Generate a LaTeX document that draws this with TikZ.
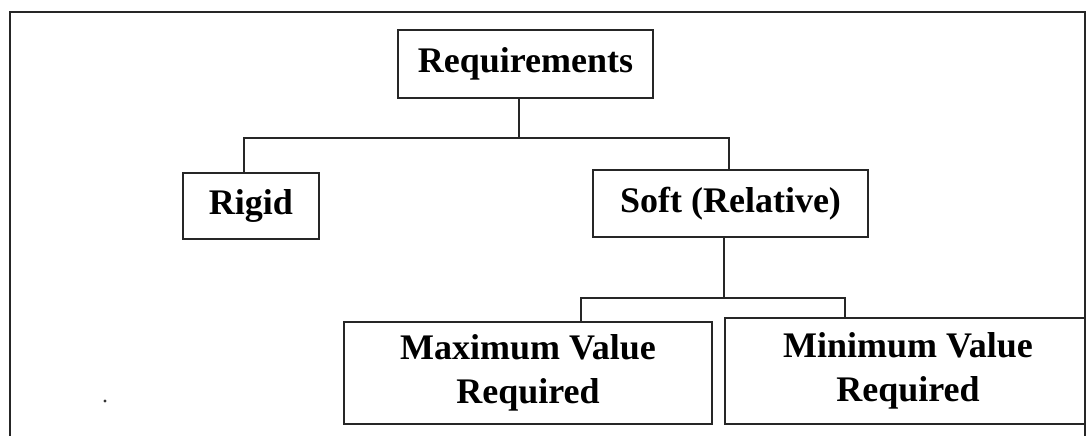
\documentclass[tikz,border=0pt]{standalone}
\usepackage{fontspec}
\setmainfont{Liberation Serif}
\begin{document}
\begin{tikzpicture}[x=1pt,y=-1pt,
  box/.style={draw=black!85, line width=1.8pt, rectangle, inner sep=0pt, align=center,
    font=\fontsize{36}{44}\selectfont\bfseries},
  link/.style={draw=black!85, line width=1.8pt},
  thinlink/.style={draw=black!85, line width=1.3pt}]
\useasboundingbox (0,0) rectangle (1086,436);
\clip (0,0) rectangle (1086,436);
\fill[white] (0,0) rectangle (1086,436);
% outer frame
\draw[black!85, line width=2.6pt] (10,12) rectangle (1085,460);
% boxes
\node[box, minimum width=255pt, minimum height=68pt] (req) at (525.5,64) {Requirements};
\node[box, minimum width=136pt, minimum height=66pt] (rigid) at (251,206) {Rigid};
\node[box, minimum width=275pt, minimum height=67pt] (soft) at (730.5,203.5) {Soft (Relative)};
\node[box, minimum width=368pt, minimum height=102pt] (maxv) at (528,373) {Maximum Value\\Required};
\node[box, minimum width=366pt, minimum height=106pt] (minv) at (908,371) {Minimum Value\\Required};
% connectors
\draw[link] ([xshift=-6.5pt]req.south) -- ++(0,39) coordinate (j1);
\draw[link] ([xshift=-7pt]rigid.north) |- (j1) -| ([xshift=-1.5pt]soft.north);
\draw[thinlink] ([xshift=-6.5pt]soft.south) -- ++(0,60) coordinate (j2);
\draw[thinlink] ([xshift=53pt]maxv.north) |- (j2) -| ([xshift=-63pt]minv.north);
% speck
\fill[black!80] (105,401) circle (1.6pt);
\end{tikzpicture}
\end{document}
